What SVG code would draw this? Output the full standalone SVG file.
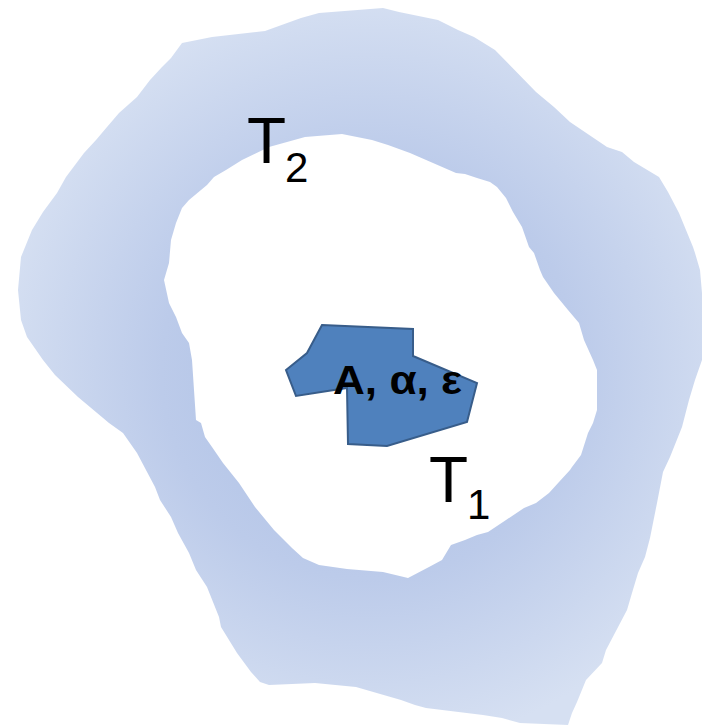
<svg xmlns="http://www.w3.org/2000/svg" width="707" height="727" viewBox="0 0 707 727">
<defs>
<radialGradient id="ringGrad" gradientUnits="userSpaceOnUse" cx="370" cy="370" r="380">
<stop offset="0" stop-color="#a9bde4"/>
<stop offset="0.55" stop-color="#bccbea"/>
<stop offset="1" stop-color="#d6e0f2"/>
</radialGradient>
</defs>
<style>
.lbl{font-family:"Liberation Sans","DejaVu Sans",sans-serif;fill:#000;}
.big{font-size:64px;}
.sub{font-size:42px;}
.core{font-family:"Liberation Sans","DejaVu Sans",sans-serif;font-weight:bold;font-size:40px;fill:#000;}
</style>
<g id="ring">
<path fill="url(#ringGrad)" fill-rule="evenodd" d="M182,43 L212,37 L265,31 L301,18 L319,13 L383,8 L399,12 L438,20 L458,30 L474,37 L495,50 L536,92 L554,107 L570,122 L607,147 L622,152 L634,162 L659,177 L668,192 L679,213 L686,230 L693,247 L695,253 L700,270 L702,293 L702,360 L695,380 L689,400 L682,427 L670,457 L663,472 L657,503 L650,538 L645,557 L638,573 L632,593 L627,610 L606,650 L602,663 L586,680 L577,702 L572,713 L568,725 L520,723 L502,718 L483,715 L426,708 L415,705 L401,700 L356,687 L315,683 L269,685 L260,682 L251,672 L237,653 L221,627 L219,617 L207,587 L196,570 L189,553 L178,533 L171,517 L160,500 L155,487 L137,453 L123,433 L109,423 L78,397 L55,375 L43,360 L27,337 L21,320 L18,290 L21,257 L32,230 L43,212 L57,193 L66,177 L84,153 L96,140 L107,127 L119,113 L137,97 L150,80 L162,67 L171,58 Z M305,137 L342,134 L372,140 L388,145 L410,153 L456,173 L465,174 L477,178 L490,182 L497,187 L506,198 L513,212 L522,227 L529,247 L534,253 L540,270 L543,277 L554,293 L568,310 L579,323 L584,340 L593,360 L597,370 L597,410 L593,423 L588,433 L581,455 L572,467 L570,470 L559,482 L549,493 L536,503 L524,508 L506,520 L488,532 L477,535 L465,540 L451,545 L442,560 L429,567 L408,578 L383,572 L347,569 L319,565 L303,558 L292,548 L274,530 L255,507 L239,483 L223,463 L212,447 L205,437 L201,423 L196,420 L192,360 L189,343 L182,333 L176,317 L169,303 L164,280 L169,263 L171,240 L176,223 L182,208 L189,200 L201,190 L207,185 L214,177 L226,170 L242,160 L269,147 Z"/>
</g>
<g id="core">
<polygon points="322,325 413,329 413,356 477,383 467,422 387,446 348,444 347,388 296,396 286,370 307,353" fill="#4f81bd" stroke="#385d8a" stroke-width="2" stroke-linejoin="miter"/>
<text class="core" x="333" y="394" textLength="129" lengthAdjust="spacingAndGlyphs">A, α, ε</text>
</g>
<g id="label-T2">
<text class="lbl" x="247" y="163"><tspan class="big">T</tspan></text>
<text class="lbl sub" x="285" y="182">2</text>
</g>
<g id="label-T1">
<text class="lbl" x="429" y="502"><tspan class="big">T</tspan></text>
<text class="lbl sub" x="467" y="519">1</text>
</g>
<g id="connectors"/>
</svg>
